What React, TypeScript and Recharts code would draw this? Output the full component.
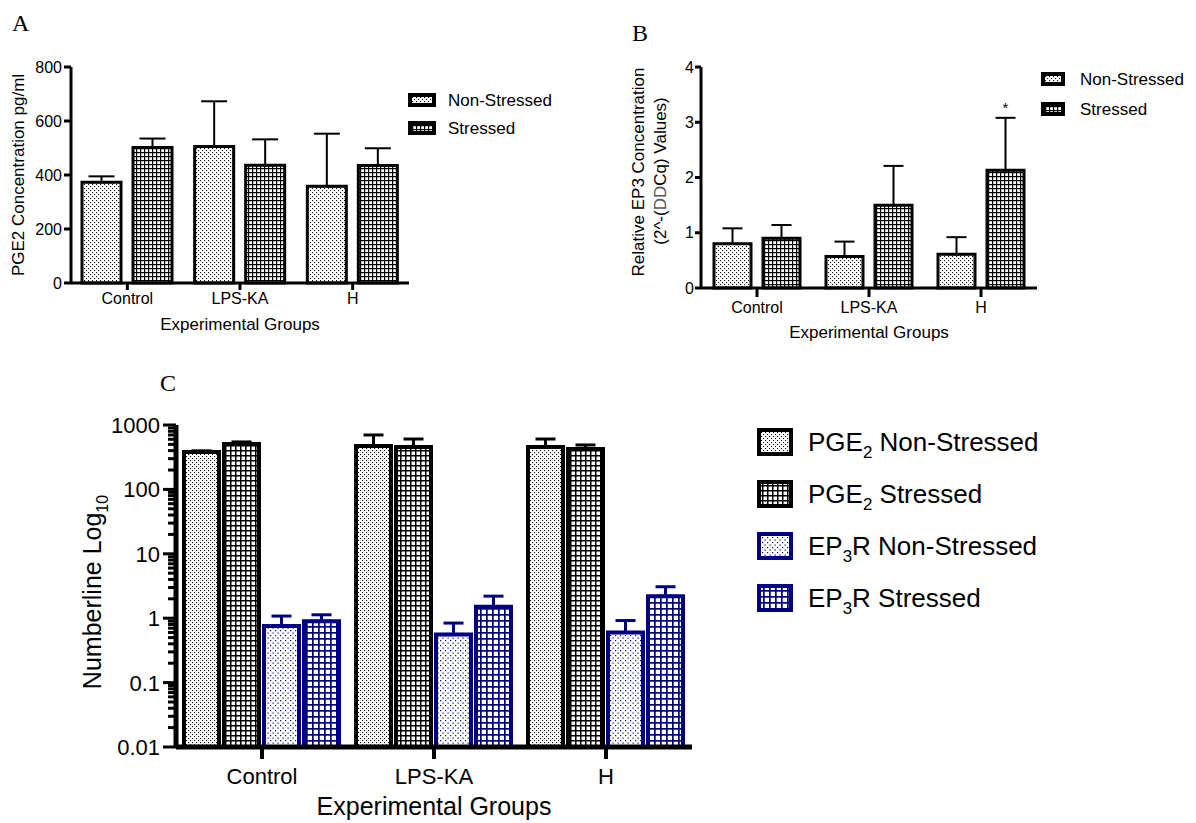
import React from 'react';
import { BarChart, Bar, XAxis, YAxis, ErrorBar, Legend, LabelList } from 'recharts';

const FONT = '"Liberation Sans", Arial, Helvetica, sans-serif';
const SERIF = '"Liberation Serif", "Times New Roman", serif';
const NAVY = '#000080';

// categories
const groups = ['Control', 'LPS-KA', 'H'];

// panel A - PGE2 concentration (pg/ml), mean and upper error
const pgeNonStressed = [373, 506, 358];
const pgeNonStressedErr = [22, 167, 195];
const pgeStressed = [502, 436, 435];
const pgeStressedErr = [33, 96, 64];
const pgeTicks = [0, 200, 400, 600, 800];

// panel B - relative EP3 concentration
const ep3NonStressed = [0.8, 0.57, 0.61];
const ep3NonStressedErr = [0.28, 0.27, 0.31];
const ep3Stressed = [0.9, 1.5, 2.13];
const ep3StressedErr = [0.24, 0.71, 0.95];
const ep3Sig = ['', '', '*'];
const ep3Ticks = [0, 1, 2, 3, 4];

// panel C - both on a log10 number line
const logPgeNonStressed = [382, 473, 456];
const logPgeNonStressedErr = [15, 227, 150];
const logPgeStressed = [508, 456, 425];
const logPgeStressedErr = [38, 150, 65];
const logEp3NonStressed = [0.76, 0.56, 0.6];
const logEp3NonStressedErr = [0.32, 0.28, 0.32];
const logEp3Stressed = [0.9, 1.5, 2.2];
const logEp3StressedErr = [0.23, 0.7, 0.88];
const logMajorTicks = [0.01, 0.1, 1, 10, 100, 1000];
const logTickLabels = ['0.01', '0.1', '1', '10', '100', '1000'];
const logMinorSteps = [2, 3, 4, 5, 6, 7, 8, 9];

const logAllTicks = logMajorTicks.flatMap((m, i) =>
  i < logMajorTicks.length - 1 ? [m, ...logMinorSteps.map((k) => m * k)] : [m]
);

const dataA = groups.map((g, i) => ({
  group: g,
  ns: pgeNonStressed[i],
  nsErr: [0, pgeNonStressedErr[i]],
  s: pgeStressed[i],
  sErr: [0, pgeStressedErr[i]],
}));

const dataB = groups.map((g, i) => ({
  group: g,
  ns: ep3NonStressed[i],
  nsErr: [0, ep3NonStressedErr[i]],
  s: ep3Stressed[i],
  sErr: [0, ep3StressedErr[i]],
  sig: ep3Sig[i],
}));

const dataC = groups.map((g, i) => ({
  group: g,
  pgeNs: logPgeNonStressed[i],
  pgeNsErr: [0, logPgeNonStressedErr[i]],
  pgeS: logPgeStressed[i],
  pgeSErr: [0, logPgeStressedErr[i]],
  epNs: logEp3NonStressed[i],
  epNsErr: [0, logEp3NonStressedErr[i]],
  epS: logEp3Stressed[i],
  epSErr: [0, logEp3StressedErr[i]],
}));

const axisStyle = { stroke: '#000', strokeWidth: 3 };

type LegendItem = { key: string; label: React.ReactNode; fill: string; stroke: string };

const sub = (t: string) => (
  <span style={{ fontSize: '0.65em', position: 'relative', top: '0.4em' }}>{t}</span>
);

const itemsAB: LegendItem[] = [
  { key: 'ns', label: 'Non-Stressed', fill: 'url(#dotK)', stroke: '#000' },
  { key: 's', label: 'Stressed', fill: 'url(#gridK)', stroke: '#000' },
];

const itemsC: LegendItem[] = [
  { key: 'pgeNs', label: <>PGE{sub('2')} Non-Stressed</>, fill: 'url(#dotK)', stroke: '#000' },
  { key: 'pgeS', label: <>PGE{sub('2')} Stressed</>, fill: 'url(#gridKc)', stroke: '#000' },
  { key: 'epNs', label: <>EP{sub('3')}R Non-Stressed</>, fill: 'url(#dotN)', stroke: NAVY },
  { key: 'epS', label: <>EP{sub('3')}R Stressed</>, fill: 'url(#gridN)', stroke: NAVY },
];

function BoxLegend(props: {
  items: LegendItem[];
  boxW: number;
  boxH: number;
  sw: number;
  rowH: number;
  gap: number;
  fontSize: number;
}) {
  const { items, boxW, boxH, sw, rowH, gap, fontSize } = props;
  return (
    <div style={{ fontFamily: FONT, fontSize, color: '#000', textAlign: 'left' }}>
      {items.map((it) => (
        <div key={it.key} style={{ display: 'flex', alignItems: 'center', height: rowH, whiteSpace: 'nowrap' }}>
          <svg width={boxW} height={boxH} style={{ display: 'block', marginRight: gap }}>
            <rect x={sw / 2} y={sw / 2} width={boxW - sw} height={boxH - sw} fill={it.fill} stroke={it.stroke} strokeWidth={sw} />
          </svg>
          <span style={{ lineHeight: 1 }}>{it.label}</span>
        </div>
      ))}
    </div>
  );
}

const C_TICK_SIZE = 13;
const C_TICK_MARGIN = 3;

function LogTick(props: any) {
  const { x, y, payload } = props;
  const idx = logMajorTicks.indexOf(payload.value);
  const axisX = x + C_TICK_SIZE + C_TICK_MARGIN;
  const len = idx >= 0 ? 13 : 8;
  return (
    <g>
      <line x1={axisX - len} x2={axisX} y1={y} y2={y} stroke="#000" strokeWidth={3} />
      {idx >= 0 && (
        <text x={x} y={y} dy="0.36em" textAnchor="end" fontSize={22} fontFamily={FONT} fill="#000">
          {logTickLabels[idx]}
        </text>
      )}
    </g>
  );
}

function Asterisk(props: any) {
  const { x, y, width, height, value, index } = props;
  if (!value) return null;
  const perUnit = height / ep3Stressed[index];
  const top = y - ep3StressedErr[index] * perUnit;
  return (
    <text x={x + width / 2} y={top - 5} textAnchor="middle" fontSize={15} fontFamily={FONT} fill="#000">
      {value}
    </text>
  );
}

const Patterns = () => (
  <svg width={0} height={0} style={{ position: 'absolute' }}>
    <defs>
      <pattern id="dotK" width={4} height={4} patternUnits="userSpaceOnUse">
        <rect width={4} height={4} fill="#fff" />
        <rect x={0} y={0} width={1.1} height={1.1} fill="#111" />
        <rect x={2} y={2} width={1.1} height={1.1} fill="#111" />
      </pattern>
      <pattern id="gridK" width={4} height={4} patternUnits="userSpaceOnUse">
        <rect width={4} height={4} fill="#fff" />
        <rect width={4} height={1.2} fill="#000" />
        <rect width={1.2} height={4} fill="#000" />
      </pattern>
      <pattern id="gridKc" width={5} height={5} patternUnits="userSpaceOnUse">
        <rect width={5} height={5} fill="#fff" />
        <rect width={5} height={1.5} fill="#000" />
        <rect width={1.5} height={5} fill="#000" />
      </pattern>
      <pattern id="dotN" width={5} height={5} patternUnits="userSpaceOnUse">
        <rect width={5} height={5} fill="#fff" />
        <rect x={0} y={0} width={1.2} height={1.2} fill={NAVY} />
        <rect x={2.5} y={2.5} width={1.2} height={1.2} fill={NAVY} />
      </pattern>
      <pattern id="gridN" width={6} height={6} patternUnits="userSpaceOnUse">
        <rect width={6} height={6} fill="#fff" />
        <rect width={6} height={1.7} fill={NAVY} />
        <rect width={1.7} height={6} fill={NAVY} />
      </pattern>
    </defs>
  </svg>
);

export default function App() {
  return (
    <div style={{ position: 'absolute', left: 0, top: 0, width: 1196, height: 823, background: '#fff' }}>
      <Patterns />

      {/* Panel A */}
      <div style={{ position: 'absolute', left: 0, top: 0 }}>
        <BarChart width={600} height={345} data={dataA} margin={{ top: 67, right: 191, bottom: 0, left: 0 }} barCategoryGap={11} barGap={12}>
          <XAxis
            dataKey="group"
            height={62}
            axisLine={axisStyle}
            tickLine={axisStyle}
            tickSize={7}
            tickMargin={3}
            tick={{ fill: '#000', fontSize: 16, fontFamily: FONT }}
            label={{ value: 'Experimental Groups', position: 'insideBottom', offset: 15, fill: '#000', fontSize: 17, fontFamily: FONT }}
          />
          <YAxis
            width={71}
            domain={[0, 800]}
            ticks={pgeTicks}
            interval={0}
            axisLine={axisStyle}
            tickLine={axisStyle}
            tickSize={7}
            tickMargin={2}
            tick={{ fill: '#000', fontSize: 16, fontFamily: FONT }}
          />
          <Bar dataKey="ns" name="Non-Stressed" fill="url(#dotK)" stroke="#000" strokeWidth={3} isAnimationActive={false}>
            <ErrorBar dataKey="nsErr" direction="y" width={13} stroke="#000" strokeWidth={2} />
          </Bar>
          <Bar dataKey="s" name="Stressed" fill="url(#gridK)" stroke="#000" strokeWidth={3} isAnimationActive={false}>
            <ErrorBar dataKey="sErr" direction="y" width={13} stroke="#000" strokeWidth={2} />
          </Bar>
          <Legend
            layout="vertical"
            align="center"
            verticalAlign="middle"
            wrapperStyle={{ left: 408, top: 86 }}
            content={() => <BoxLegend items={itemsAB} boxW={28} boxH={14} sw={4} rowH={28} gap={12} fontSize={17} />}
          />
          <text x={12} y={31} fontSize={24} fontFamily={SERIF} fill="#000">A</text>
          <text transform="translate(24,175) rotate(-90)" textAnchor="middle" fontSize={17} fontFamily={FONT} fill="#000">
            PGE2 Concentration pg/ml
          </text>
        </BarChart>
      </div>

      {/* Panel B */}
      <div style={{ position: 'absolute', left: 600, top: 0 }}>
        <BarChart width={596} height={345} data={dataB} margin={{ top: 67, right: 159, bottom: 0, left: 0 }} barCategoryGap={13} barGap={12}>
          <XAxis
            dataKey="group"
            height={57}
            axisLine={axisStyle}
            tickLine={axisStyle}
            tickSize={9}
            tickMargin={5}
            tick={{ fill: '#000', fontSize: 16, fontFamily: FONT }}
            label={{ value: 'Experimental Groups', position: 'insideBottom', offset: 7, fill: '#000', fontSize: 17, fontFamily: FONT }}
          />
          <YAxis
            width={101}
            domain={[0, 4]}
            ticks={ep3Ticks}
            interval={0}
            axisLine={axisStyle}
            tickLine={axisStyle}
            tickSize={6}
            tickMargin={1}
            tick={{ fill: '#000', fontSize: 16, fontFamily: FONT }}
          />
          <Bar dataKey="ns" name="Non-Stressed" fill="url(#dotK)" stroke="#000" strokeWidth={3} isAnimationActive={false}>
            <ErrorBar dataKey="nsErr" direction="y" width={10} stroke="#000" strokeWidth={2} />
          </Bar>
          <Bar dataKey="s" name="Stressed" fill="url(#gridK)" stroke="#000" strokeWidth={3} isAnimationActive={false}>
            <ErrorBar dataKey="sErr" direction="y" width={10} stroke="#000" strokeWidth={2} />
            <LabelList dataKey="sig" content={(p: any) => <Asterisk {...p} />} />
          </Bar>
          <Legend
            layout="vertical"
            align="center"
            verticalAlign="middle"
            wrapperStyle={{ left: 441, top: 64 }}
            content={() => <BoxLegend items={itemsAB} boxW={24} boxH={14} sw={4} rowH={30} gap={15} fontSize={17} />}
          />
          <text x={32} y={41} fontSize={24} fontFamily={SERIF} fill="#000">B</text>
          <text transform="translate(44,172) rotate(-90)" textAnchor="middle" fontSize={17} fontFamily={FONT} fill="#000">
            Relative EP3 Concentration
          </text>
          <text transform="translate(66,171) rotate(-90)" textAnchor="middle" fontSize={17} fontFamily={FONT} fill="#000">
            (2^-(<tspan fill="#555">DD</tspan>Cq) Values)
          </text>
        </BarChart>
      </div>

      {/* Panel C */}
      <div style={{ position: 'absolute', left: 0, top: 350 }}>
        <BarChart width={1100} height={473} data={dataC} margin={{ top: 75, right: 408, bottom: 0, left: 0 }} barCategoryGap={8} barGap={5}>
          <XAxis
            dataKey="group"
            height={76}
            axisLine={{ stroke: '#000', strokeWidth: 5 }}
            tickLine={{ stroke: '#000', strokeWidth: 4 }}
            tickSize={12}
            tickMargin={9}
            tick={{ fill: '#000', fontSize: 22, fontFamily: FONT }}
            label={{ value: 'Experimental Groups', position: 'insideBottom', offset: 8, fill: '#000', fontSize: 25, fontFamily: FONT }}
          />
          <YAxis
            width={176}
            type="number"
            scale="log"
            domain={[0.01, 1000]}
            allowDataOverflow
            ticks={logAllTicks}
            interval={0}
            axisLine={{ stroke: '#000', strokeWidth: 5 }}
            tickLine={false}
            tickSize={C_TICK_SIZE}
            tickMargin={C_TICK_MARGIN}
            tick={(p: any) => <LogTick {...p} />}
          />
          <Bar dataKey="pgeNs" fill="url(#dotK)" stroke="#000" strokeWidth={4} isAnimationActive={false}>
            <ErrorBar dataKey="pgeNsErr" direction="y" width={10} stroke="#000" strokeWidth={3} />
          </Bar>
          <Bar dataKey="pgeS" fill="url(#gridKc)" stroke="#000" strokeWidth={4} isAnimationActive={false}>
            <ErrorBar dataKey="pgeSErr" direction="y" width={10} stroke="#000" strokeWidth={3} />
          </Bar>
          <Bar dataKey="epNs" fill="url(#dotN)" stroke={NAVY} strokeWidth={4} isAnimationActive={false}>
            <ErrorBar dataKey="epNsErr" direction="y" width={10} stroke={NAVY} strokeWidth={3} />
          </Bar>
          <Bar dataKey="epS" fill="url(#gridN)" stroke={NAVY} strokeWidth={4} isAnimationActive={false}>
            <ErrorBar dataKey="epSErr" direction="y" width={10} stroke={NAVY} strokeWidth={3} />
          </Bar>
          <Legend
            layout="vertical"
            align="center"
            verticalAlign="middle"
            wrapperStyle={{ left: 757, top: 66 }}
            content={() => <BoxLegend items={itemsC} boxW={36} boxH={28} sw={4} rowH={52} gap={15} fontSize={26} />}
          />
          <text x={160} y={41} fontSize={24} fontFamily={SERIF} fill="#000">C</text>
          <text transform="translate(101,242) rotate(-90)" textAnchor="middle" fontSize={25} fontFamily={FONT} fill="#000">
            Numberline Log<tspan fontSize={16} dy={7}>10</tspan>
          </text>
        </BarChart>
      </div>
    </div>
  );
}
